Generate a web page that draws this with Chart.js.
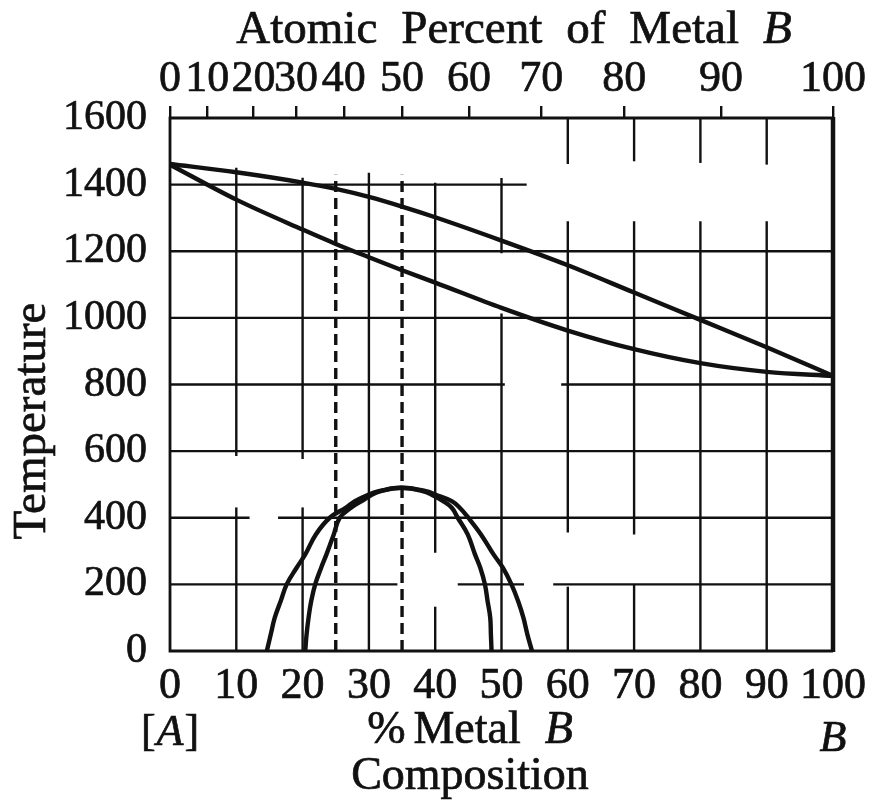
<!DOCTYPE html>
<html>
<head>
<meta charset="utf-8">
<script src="https://cdn.jsdelivr.net/npm/chart.js@4.4.1/dist/chart.umd.min.js"></script>
<style>
  html, body { margin: 0; padding: 0; background: #fff; }
  #wrap { width: 870px; height: 801px; }
</style>
</head>
<body>
<div id="wrap"><canvas id="chart" width="870" height="801"></canvas></div>
<script>
// composition in weight % of metal B, temperature in degrees
const liquidusX = [0, 10, 20, 25, 30, 35, 40, 50, 60, 70, 80, 90, 100];
const liquidusT = [1462, 1437, 1406, 1387, 1363, 1334, 1302, 1232, 1158, 1076, 994, 912, 826];

const solidusX = [0, 10, 20, 25, 30, 35, 40, 50, 60, 70, 80, 90, 100];
const solidusT = [1460, 1355, 1265, 1222, 1182, 1143, 1106, 1030, 962, 906, 864, 838, 826];

// the two low-temperature domes (read left foot -> top -> right foot)
const domeT = [0, 50, 100, 150, 200, 250, 290, 350, 400, 430, 450, 470, 480, 490,
               480, 470, 450, 430, 400, 350, 290, 250, 200, 150, 100, 50, 0];
const outerDomeX = [14.6, 15.2, 15.8, 16.7, 17.6, 19.1, 20.4, 22.0, 24.1, 26.5, 27.9, 30.0, 31.5, 34.9,
                    38.6, 40.0, 42.5, 43.7, 45.0, 46.9, 48.8, 50.2, 51.5, 52.5, 53.3, 53.9, 54.6];
const innerDomeX = [20.4, 20.6, 20.9, 21.3, 21.9, 22.8, 23.6, 24.7, 25.6, 27.3, 28.9, 30.5, 31.8, 34.9,
                    38.1, 39.4, 41.2, 42.5, 43.4, 44.9, 46.0, 46.8, 47.5, 47.9, 48.3, 48.4, 48.5];

// dashed composition lines
const dashedX = [25, 35];
const dashedTop = 1430;

// top axis: atomic percent ticks, placed at their weight-% positions
const atomicPos = [0, 5.6, 12.6, 19.0, 26.2, 35.0, 45.1, 56.0, 68.5, 83.1, 100];
const atomicLabels = ['0', '10', '20', '30', '40', '50', '60', '70', '80', '90', '100'];

// grid pieces as printed (some lines are broken): [at, from, to]
const gridVertical = [
  [10, 0, 431], [10, 585, 1451],
  [20, 0, 431], [20, 576, 1421],
  [30, 0, 1436],
  [40, 0, 133], [40, 295, 1406],
  [50, 0, 1013], [50, 1194, 1420],
  [60, 0, 193], [60, 356, 1290], [60, 1462, 1600],
  [70, 0, 199], [70, 350, 1290], [70, 1470, 1600],
  [80, 0, 1290], [80, 1465, 1600],
  [90, 0, 1290], [90, 1460, 1600]
];
const gridHorizontal = [
  [200, 0, 34.3], [200, 43.4, 53.4], [200, 57.8, 100],
  [400, 0, 12], [400, 16.3, 100],
  [600, 0, 100],
  [800, 0, 50.5], [800, 59, 100],
  [1000, 0, 100],
  [1200, 0, 100],
  [1400, 0, 53.8]
];

const ink = "#111";
const serif = "'Liberation Serif', 'Times New Roman', serif";
const heavy = 0.7; // printed type is a bit heavier than Liberation Serif

const toPoints = (xs, ys) => xs.map((x, i) => ({ x: x, y: ys[i] }));

const curve = (data, mode, tension) => ({
  data: data,
  showLine: true,
  borderColor: ink,
  borderWidth: 4.4,
  pointRadius: 0,
  fill: false,
  cubicInterpolationMode: mode,
  tension: tension
});

const datasets = [
  curve(toPoints(liquidusX, liquidusT), 'monotone', 0.4),
  curve(toPoints(solidusX, solidusT), 'monotone', 0.4),
  curve(toPoints(outerDomeX, domeT), 'default', 0.4),
  curve(toPoints(innerDomeX, domeT), 'default', 0.4)
];
dashedX.forEach(v => {
  datasets.push({
    data: [{ x: v, y: 0 }, { x: v, y: dashedTop }],
    showLine: true,
    borderColor: ink,
    borderWidth: 3.4,
    borderDash: [11, 6],
    pointRadius: 0,
    fill: false
  });
});

// draws words one after another, some of them in italic
function drawWords(ctx, words, cx, baseline, size, gap) {
  const fontFor = it => (it ? 'italic ' : '') + size + 'px ' + serif;
  const widths = words.map(w => { ctx.font = fontFor(w[1]); return ctx.measureText(w[0]).width; });
  let total = widths.reduce((a, b) => a + b, 0);
  words.forEach((w, i) => { if (i > 0) total += (w[2] !== undefined ? w[2] : gap); });
  let x = cx - total / 2;
  ctx.textAlign = 'left';
  ctx.textBaseline = 'alphabetic';
  ctx.strokeStyle = ink;
  ctx.lineWidth = heavy;
  words.forEach((w, i) => {
    if (i > 0) x += (w[2] !== undefined ? w[2] : gap);
    ctx.font = fontFor(w[1]);
    ctx.fillText(w[0], x, baseline);
    ctx.strokeText(w[0], x, baseline);
    x += widths[i];
  });
}

const paperGrid = {
  id: 'paperGrid',
  beforeDatasetsDraw(chart) {
    const { ctx, scales: { x, y } } = chart;
    ctx.save();
    ctx.strokeStyle = ink;
    ctx.lineWidth = 2.4;
    gridVertical.forEach(([v, t0, t1]) => {
      const px = x.getPixelForValue(v);
      ctx.beginPath();
      ctx.moveTo(px, y.getPixelForValue(t0));
      ctx.lineTo(px, y.getPixelForValue(t1));
      ctx.stroke();
    });
    gridHorizontal.forEach(([t, v0, v1]) => {
      const py = y.getPixelForValue(t);
      ctx.beginPath();
      ctx.moveTo(x.getPixelForValue(v0), py);
      ctx.lineTo(x.getPixelForValue(v1), py);
      ctx.stroke();
    });
    // frame, right edge printed heavier
    const l = x.getPixelForValue(0), r = x.getPixelForValue(100);
    const t = y.getPixelForValue(1600), b = y.getPixelForValue(0);
    ctx.lineWidth = 2.8;
    ctx.beginPath();
    ctx.moveTo(r, t); ctx.lineTo(l, t); ctx.lineTo(l, b); ctx.lineTo(r, b);
    ctx.stroke();
    ctx.lineWidth = 4.5;
    ctx.beginPath();
    ctx.moveTo(r, t - 1); ctx.lineTo(r, b + 1);
    ctx.stroke();
    ctx.restore();
  }
};

const axisTexts = {
  id: 'axisTexts',
  afterDraw(chart) {
    const { ctx, scales: { x } } = chart;
    ctx.save();
    ctx.fillStyle = ink;
    drawWords(ctx, [['Atomic', false], ['Percent', false], ['of', false], ['Metal', false], ['B', true]], 514, 43, 47, 24);
    drawWords(ctx, [['[', false], ['A', true, 1], [']', false, 1]], x.getPixelForValue(0), 745, 44, 0);
    drawWords(ctx, [['%', false], ['Metal', false, 8], ['B', true, 24]], 470, 743, 46, 0);
    drawWords(ctx, [['B', true]], x.getPixelForValue(100), 751, 44, 0);
    drawWords(ctx, [['Composition', false]], 470, 789, 46, 0);
    ctx.translate(45, 421);
    ctx.rotate(-Math.PI / 2);
    drawWords(ctx, [['Temperature', false]], 0, 0, 47, 0);
    ctx.restore();
  }
};

new Chart(document.getElementById('chart'), {
  type: 'scatter',
  data: { datasets: datasets },
  options: {
    responsive: false,
    animation: false,
    layout: { padding: { left: 0, right: 37, top: 0, bottom: 0 } },
    plugins: { legend: { display: false }, tooltip: { enabled: false } },
    scales: {
      x: {
        type: 'linear',
        position: 'bottom',
        min: 0,
        max: 100,
        afterFit: s => { s.height = 150; },
        ticks: {
          stepSize: 10,
          autoSkip: false,
          maxRotation: 0,
          padding: 1,
          color: ink,
          textStrokeColor: ink,
          textStrokeWidth: heavy,
          font: { family: serif, size: 44 }
        },
        grid: { display: false },
        border: { display: false }
      },
      x2: {
        type: 'linear',
        position: 'top',
        min: 0,
        max: 100,
        afterFit: s => { s.height = 118; },
        afterBuildTicks: s => { s.ticks = atomicPos.map(v => ({ value: v })); },
        ticks: {
          autoSkip: false,
          maxRotation: 0,
          padding: 0,
          color: ink,
          textStrokeColor: ink,
          textStrokeWidth: heavy,
          font: { family: serif, size: 44 },
          callback: (v, i) => atomicLabels[i]
        },
        grid: { drawOnChartArea: false, drawTicks: true, tickLength: 12, lineWidth: 2.4, color: ink },
        border: { display: false }
      },
      y: {
        type: 'linear',
        min: 0,
        max: 1600,
        afterFit: s => { s.width = 170; },
        ticks: {
          stepSize: 200,
          padding: 15,
          color: ink,
          textStrokeColor: ink,
          textStrokeWidth: heavy,
          font: { family: serif, size: 42 },
          callback: v => String(v)
        },
        grid: { display: false },
        border: { display: false }
      }
    }
  },
  plugins: [paperGrid, axisTexts]
});
</script>
</body>
</html>
